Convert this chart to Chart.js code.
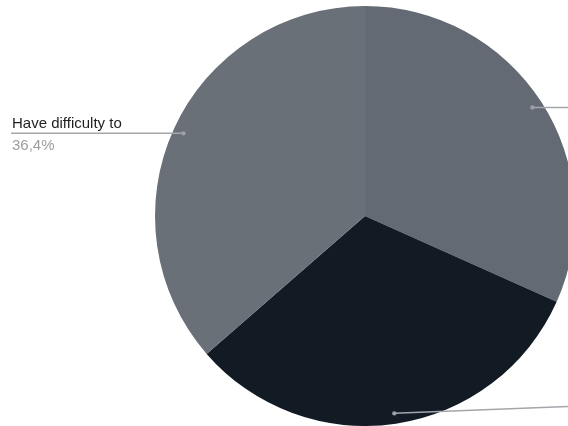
<!DOCTYPE html>
<html>
<head>
<meta charset="utf-8">
<script src="https://cdn.jsdelivr.net/npm/chart.js@4/dist/chart.umd.min.js"></script>
<style>
  html, body { margin: 0; padding: 0; background: #fff; overflow: hidden; }
  #wrap { width: 568px; height: 426px; overflow: hidden; position: relative; }
  #box { width: 740px; height: 426px; position: absolute; left: 0; top: 0; }
</style>
</head>
<body>
<div id="wrap"><div id="box"><canvas id="myChart"></canvas></div></div>
<script>
// slices go clockwise from 12 o'clock; the two right-hand labels are cut off in the source
const labels = ['', '', 'Have difficulty to'];
const values = [31.7, 31.9, 36.4];
const colors = ['#636a73', '#121b24', '#6a7078'];

const leaderColor = '#a3a6aa';

const calloutPlugin = {
  id: 'callouts',
  afterDatasetsDraw(chart) {
    const ctx = chart.ctx;
    const meta = chart.getDatasetMeta(0);
    const total = values.reduce((a, b) => a + b, 0);
    ctx.save();
    meta.data.forEach((arc, i) => {
      const mid = (arc.startAngle + arc.endAngle) / 2;
      const r = arc.outerRadius * 0.95;
      const px = arc.x + Math.cos(mid) * r;
      const py = arc.y + Math.sin(mid) * r;

      ctx.strokeStyle = leaderColor;
      ctx.lineWidth = 1.5;
      ctx.beginPath();
      ctx.moveTo(px, py);
      if (px < arc.x) {
        ctx.lineTo(11, py);
      } else if (py > arc.y + arc.outerRadius * 0.5) {
        ctx.lineTo(600, py - 8);
      } else {
        ctx.lineTo(600, py);
      }
      ctx.stroke();

      ctx.fillStyle = '#9aa0a6';
      ctx.beginPath();
      ctx.arc(px, py, 2.2, 0, Math.PI * 2);
      ctx.fill();

      if (px < arc.x && labels[i]) {
        ctx.textAlign = 'left';
        ctx.textBaseline = 'alphabetic';
        ctx.font = '15px "Liberation Sans", Arial, sans-serif';
        ctx.fillStyle = '#1f1f1f';
        ctx.fillText(labels[i], 12, py - 5);
        ctx.fillStyle = '#9e9e9e';
        const pct = (values[i] / total * 100).toFixed(1).replace('.', ',') + '%';
        ctx.fillText(pct, 12, py + 17);
      }
    });
    ctx.restore();
  }
};

new Chart(document.getElementById('myChart').getContext('2d'), {
  type: 'pie',
  data: {
    labels: labels,
    datasets: [{
      data: values,
      backgroundColor: colors,
      borderWidth: 0
    }]
  },
  options: {
    responsive: true,
    maintainAspectRatio: false,
    animation: false,
    layout: { padding: { left: 155, right: 165, top: 6, bottom: 0 } },
    plugins: {
      legend: { display: false },
      tooltip: { enabled: false }
    }
  },
  plugins: [calloutPlugin]
});
</script>
</body>
</html>
